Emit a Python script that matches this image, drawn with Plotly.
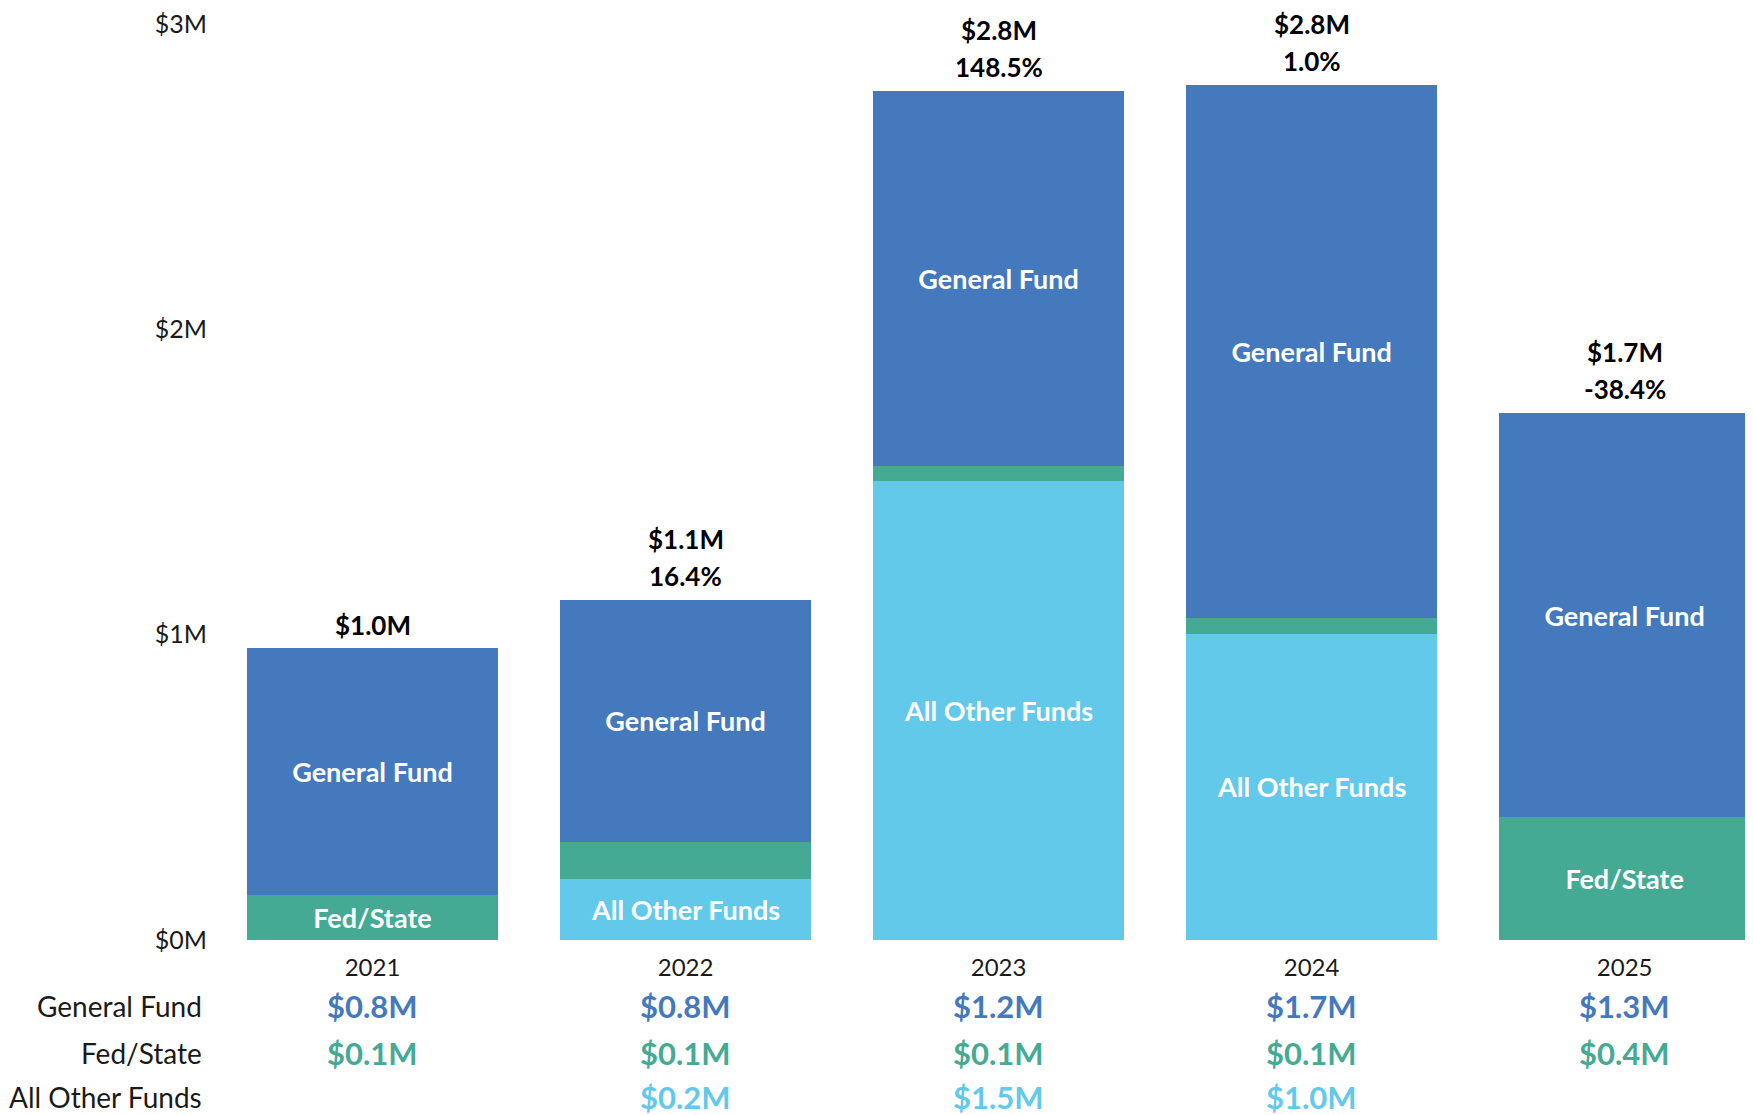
import plotly.graph_objects as go

# ---- data ----
years = ["2021", "2022", "2023", "2024", "2025"]
general_fund = [0.81, 0.795, 1.225, 1.747, 1.323]
fed_state = [0.147, 0.119, 0.052, 0.051, 0.402]
all_other = [0.0, 0.201, 1.502, 1.003, 0.0]
pct_change = [None, "16.4%", "148.5%", "1.0%", "-38.4%"]
y_ticks = [0, 1, 2, 3]
y_tick_text = ["$0M", "$1M", "$2M", "$3M"]

C_GF = "#4479BD"
C_FS = "#44AA94"
C_AOF = "#63C9EB"
FONT = "Lato"

x = list(range(len(years)))
totals = [g + f + a for g, f, a in zip(general_fund, fed_state, all_other)]

def inner(name, vals, thr=0.13):
    return [name if v >= thr else "" for v in vals]

fig = go.Figure()
series = [
    ("All Other Funds", all_other, C_AOF),
    ("Fed/State", fed_state, C_FS),
    ("General Fund", general_fund, C_GF),
]
for name, vals, col in series:
    fig.add_trace(go.Bar(
        x=x, y=vals, name=name, marker=dict(color=col, line=dict(width=0)),
        text=inner(name, vals), textposition="inside", insidetextanchor="middle",
        textangle=0, textfont=dict(family=FONT, size=27, color="white", weight="bold"),
        hoverinfo="skip", cliponaxis=False,
    ))

# totals and % change above bars
for i, t in enumerate(totals):
    if pct_change[i] is None:
        fig.add_annotation(x=i, y=t, text=f"${t:.1f}M", showarrow=False, yanchor="middle",
                           yshift=23, font=dict(family=FONT, size=26, color="black", weight="bold"))
    else:
        fig.add_annotation(x=i, y=t, text=f"${t:.1f}M", showarrow=False, yanchor="middle",
                           yshift=61, font=dict(family=FONT, size=26, color="black", weight="bold"))
        fig.add_annotation(x=i, y=t, text=pct_change[i], showarrow=False, yanchor="middle",
                           yshift=24, font=dict(family=FONT, size=26, color="black", weight="bold"))

# layout geometry
FIG_W, FIG_H = 1745, 1107
M_L, M_R, M_T, M_B = 208, 0, 9, 175
PLOT_H = float(FIG_H - M_T - M_B)

# table below the axis (pixel rows measured from the plot baseline)
rows = [
    ("General Fund", general_fund, C_GF, 67),
    ("Fed/State", fed_state, C_FS, 114),
    ("All Other Funds", all_other, C_AOF, 158),
]
for label, vals, col, dy in rows:
    yp = -dy / PLOT_H
    fig.add_annotation(xref="paper", yref="paper", x=-0.008, y=yp, text=label, showarrow=False,
                       xanchor="right", yanchor="middle",
                       font=dict(family=FONT, size=28, color="#1a1a1a"))
    for i, v in enumerate(vals):
        if v > 0:
            fig.add_annotation(x=i, yref="paper", y=yp, text=f"${v:.1f}M", showarrow=False,
                               xanchor="center", yanchor="middle",
                               font=dict(family=FONT, size=31, color=col, weight="bold"))

fig.update_layout(
    width=FIG_W, height=FIG_H,
    margin=dict(l=M_L, r=M_R, t=M_T, b=M_B),
    barmode="stack", bargap=0.2,
    showlegend=False,
    plot_bgcolor="white", paper_bgcolor="white",
    uniformtext=dict(minsize=27, mode="show"),
)
fig.update_xaxes(
    tickmode="array", tickvals=x, ticktext=years, range=[-0.5, 4.41],
    showgrid=False, zeroline=False, showline=False, ticks="",
    tickfont=dict(family=FONT, size=24, color="#1a1a1a"), ticklabelstandoff=11,
)
fig.update_yaxes(
    tickmode="array", tickvals=y_ticks, ticktext=y_tick_text, range=[0, 3],
    showgrid=False, zeroline=False, showline=False, ticks="",
    tickfont=dict(family=FONT, size=25, color="#1a1a1a"), ticklabelstandoff=8,
    ticklabeloverflow="allow",
)

fig.write_html("out.html")
